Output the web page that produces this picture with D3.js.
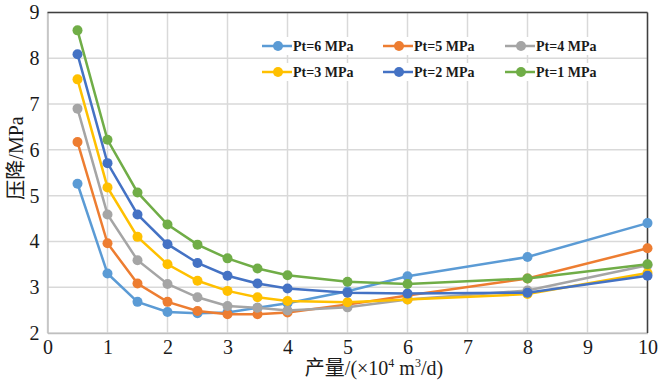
<!DOCTYPE html>
<html><head><meta charset="utf-8">
<script src="https://cdn.jsdelivr.net/npm/d3@7"></script>
<style>body{margin:0;background:#fff}svg{display:block}
.serif{font-family:"Liberation Serif","Times New Roman","DejaVu Serif",serif}
.cjk{font-family:"Liberation Serif","Times New Roman","Noto Sans CJK SC",serif}
</style>
</head><body><svg id="c" width="660" height="381"></svg>
<script>
const xValues = [0.5, 1, 1.5, 2, 2.5, 3, 3.5, 4, 5, 6, 8, 10];
const seriesNames = ["Pt=6 MPa", "Pt=5 MPa", "Pt=4 MPa", "Pt=3 MPa", "Pt=2 MPa", "Pt=1 MPa"];
const seriesColors = ["#5B9BD5", "#ED7D31", "#A5A5A5", "#FFC000", "#4472C4", "#70AD47"];
const pt6 = [5.26, 3.30, 2.68, 2.46, 2.43, 2.45, 2.55, 2.65, 2.91, 3.24, 3.66, 4.40];
const pt5 = [6.17, 3.96, 3.08, 2.68, 2.48, 2.41, 2.41, 2.45, 2.62, 2.82, 3.19, 3.85];
const pt4 = [6.90, 4.59, 3.59, 3.07, 2.78, 2.59, 2.55, 2.49, 2.56, 2.73, 2.93, 3.48];
const pt3 = [7.54, 5.18, 4.10, 3.50, 3.14, 2.92, 2.78, 2.70, 2.67, 2.73, 2.85, 3.31];
const pt2 = [8.09, 5.71, 4.59, 3.94, 3.53, 3.25, 3.08, 2.97, 2.88, 2.86, 2.88, 3.25];
const pt1 = [8.61, 6.22, 5.07, 4.37, 3.93, 3.63, 3.41, 3.26, 3.12, 3.07, 3.19, 3.50];
const xTicks = [0,1,2,3,4,5,6,7,8,9,10];
const yTicks = [2,3,4,5,6,7,8,9];
const seriesValues = [pt6, pt5, pt4, pt3, pt2, pt1];

const svg = d3.select("#c");
const L = 47.5, R = 647.5, T = 12.5, B = 333;
const x = d3.scaleLinear().domain([0, 10]).range([L, R]);
const y = d3.scaleLinear().domain([2, 9]).range([B, T]);

// grid
const g = svg.append("g");
g.selectAll(".vg").data(xTicks).join("line")
  .attr("x1", d => x(d)).attr("x2", d => x(d)).attr("y1", T).attr("y2", B)
  .attr("stroke", "#d9d9d9").attr("stroke-width", 1.5);
g.selectAll(".hg").data(yTicks).join("line")
  .attr("x1", L).attr("x2", R).attr("y1", d => y(d)).attr("y2", d => y(d))
  .attr("stroke", "#d9d9d9").attr("stroke-width", 1.5);

// axes
const xAxis = svg.append("g").attr("transform", `translate(0,${B})`)
  .call(d3.axisBottom(x).tickValues(xTicks).tickSize(0).tickPadding(5).tickFormat(d3.format("d")));
const yAxis = svg.append("g").attr("transform", `translate(${L},0)`)
  .call(d3.axisLeft(y).tickValues(yTicks).tickSize(0).tickPadding(8).tickFormat(d3.format("d")));
[xAxis, yAxis].forEach(a => {
  a.attr("font-family", null).attr("font-size", null).attr("class", "serif");
  a.select(".domain").attr("stroke", "#bfbfbf").attr("stroke-width", 1.5);
  a.selectAll("text").attr("class", "serif").style("font-size", "20px").attr("fill", "#1a1a1a");
});
xAxis.selectAll("text").attr("dy", "0.8em");
// top and right frame
svg.append("line").attr("x1", L).attr("x2", R).attr("y1", T).attr("y2", T).attr("stroke", "#404040").attr("stroke-width", 1.5);
svg.append("line").attr("x1", R).attr("x2", R).attr("y1", T).attr("y2", B).attr("stroke", "#404040").attr("stroke-width", 1.5);

// series
const line = d3.line().x((d, i) => x(xValues[i])).y(d => y(d));
seriesValues.forEach((vals, si) => {
  const sg = svg.append("g");
  sg.append("path").datum(vals).attr("d", line).attr("fill", "none")
    .attr("stroke", seriesColors[si]).attr("stroke-width", 2.5);
  sg.selectAll("circle").data(vals).join("circle")
    .attr("cx", (d, i) => x(xValues[i])).attr("cy", d => y(d)).attr("r", 5)
    .attr("fill", seriesColors[si]);
});

// legend
const legX = [262, 383, 505], legY = [46, 72];
seriesNames.forEach((n, i) => {
  const lx = legX[i % 3], ly = legY[Math.floor(i / 3)];
  const lg = svg.append("g");
  lg.append("rect").attr("x", lx - 2).attr("y", ly - 9).attr("width", 115).attr("height", 18).attr("fill", "#fff");
  lg.append("line").attr("x1", lx).attr("x2", lx + 30).attr("y1", ly).attr("y2", ly)
    .attr("stroke", seriesColors[i]).attr("stroke-width", 2.5);
  lg.append("circle").attr("cx", lx + 16).attr("cy", ly).attr("r", 5).attr("fill", seriesColors[i]);
  lg.append("text").attr("class", "serif").attr("x", lx + 31).attr("y", ly).attr("dy", "0.35em")
    .attr("font-weight", "bold").style("font-size", "14px").attr("fill", "#1a1a1a").text(n);
});

// axis titles
svg.append("text").attr("class", "cjk").attr("transform", `translate(16,158) rotate(-90)`).attr("text-anchor", "middle")
  .attr("dy", "0.35em").style("font-size", "20px").attr("fill", "#1a1a1a").text("压降/MPa");
const xt = svg.append("text").attr("class", "cjk").attr("x", 374).attr("y", 375).attr("text-anchor", "middle")
  .style("font-size", "20px").attr("fill", "#1a1a1a");
xt.append("tspan").text("产量/(×10");
xt.append("tspan").style("font-size", "12px").attr("dy", -8).text("4");
xt.append("tspan").attr("dy", 8).text(" m");
xt.append("tspan").style("font-size", "12px").attr("dy", -8).text("3");
xt.append("tspan").attr("dy", 8).text("/d)");
</script></body></html>
